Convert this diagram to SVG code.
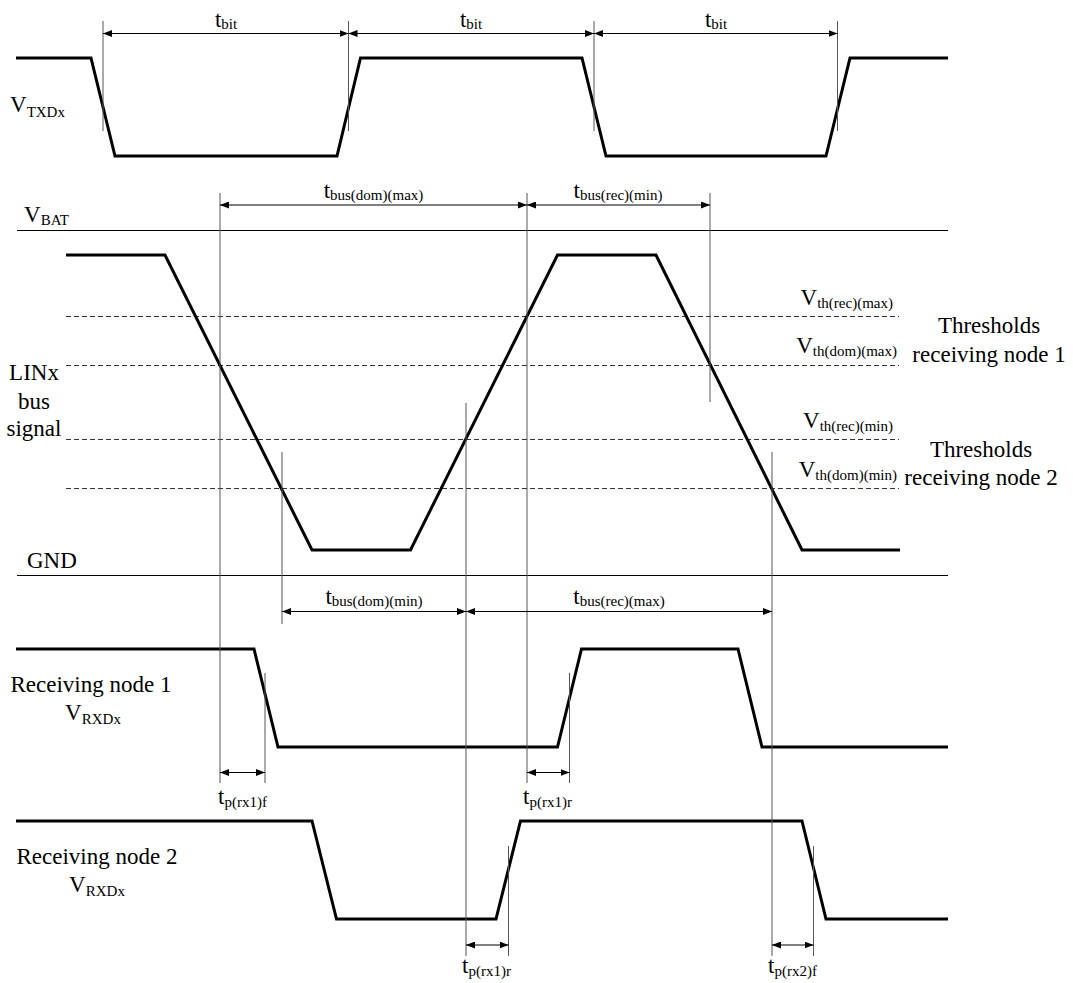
<svg xmlns="http://www.w3.org/2000/svg" width="1073" height="983" viewBox="0 0 1073 983" font-family="Liberation Serif, Times New Roman, serif">
<defs>
<marker id="ah" viewBox="0 0 9 7" refX="9" refY="3.5" markerWidth="9" markerHeight="7" markerUnits="userSpaceOnUse" orient="auto-start-reverse"><path d="M0,0 L9,3.5 L0,7 z" fill="#000"/></marker>
<style>
.wave{fill:none;stroke:#000;stroke-width:3;stroke-linejoin:miter}
.rail{stroke:#000;stroke-width:1}
.dash{stroke:#333;stroke-width:1;stroke-dasharray:5,3}
.mk{stroke:#555;stroke-width:1}
.dim{stroke:#000;stroke-width:1;marker-start:url(#ah);marker-end:url(#ah)}
text{font-family:"Liberation Serif","Times New Roman",serif;font-size:23px;fill:#000}
.s{font-size:15px}
</style>
</defs>
<rect width="1073" height="983" fill="#fff"/>

<g id="rails">
<line class="rail" x1="17" y1="230.5" x2="948" y2="230.5"/>
<line class="rail" x1="17" y1="575.5" x2="948" y2="575.5"/>
</g>

<g id="thresholds">
<line class="dash" x1="66" y1="316.5" x2="899" y2="316.5"/>
<line class="dash" x1="66" y1="365.5" x2="899" y2="365.5"/>
<line class="dash" x1="66" y1="439.5" x2="899" y2="439.5"/>
<line class="dash" x1="66" y1="488.5" x2="899" y2="488.5"/>
</g>

<g id="txd-wave"><polyline class="wave" points="16,58 91,58 115,156 337,156 360.5,58 582,58 606,156 826,156 850,58 948,58"/></g>
<g id="bus-wave"><polyline class="wave" points="66,255 165,255 312,550 410.5,550 557.5,255 656,255 802,550 900,550"/></g>
<g id="rx1-wave"><polyline class="wave" points="16,649 254,649 278,747 557.5,747 581.5,649 738,649 762,747 948,747"/></g>
<g id="rx2-wave"><polyline class="wave" points="16,821 312,821 336.5,919 496,919 520.5,821 802,821 826,919 948,919"/></g>

<g id="connectors">
<line class="mk" x1="103" y1="21" x2="103" y2="131"/>
<line class="mk" x1="348.5" y1="21" x2="348.5" y2="131"/>
<line class="mk" x1="594" y1="21" x2="594" y2="131"/>
<line class="mk" x1="837.5" y1="21" x2="837.5" y2="131"/>
<line class="mk" x1="220" y1="193" x2="220" y2="783"/>
<line class="mk" x1="282" y1="452" x2="282" y2="624"/>
<line class="mk" x1="466" y1="403" x2="466" y2="956"/>
<line class="mk" x1="527" y1="193" x2="527" y2="783"/>
<line class="mk" x1="710" y1="193" x2="710" y2="402"/>
<line class="mk" x1="772" y1="452" x2="772" y2="956"/>
<line class="mk" x1="265" y1="673" x2="265" y2="783"/>
<line class="mk" x1="569.5" y1="673" x2="569.5" y2="783"/>
<line class="mk" x1="508.5" y1="846" x2="508.5" y2="956"/>
<line class="mk" x1="813.5" y1="846" x2="813.5" y2="956"/>

<line class="dim" x1="103" y1="33.5" x2="348.5" y2="33.5"/>
<line class="dim" x1="348.5" y1="33.5" x2="594" y2="33.5"/>
<line class="dim" x1="594" y1="33.5" x2="837.5" y2="33.5"/>
<line class="dim" x1="220" y1="205" x2="527" y2="205"/>
<line class="dim" x1="527" y1="205" x2="710" y2="205"/>
<line class="dim" x1="282" y1="611.5" x2="466" y2="611.5"/>
<line class="dim" x1="466" y1="611.5" x2="772" y2="611.5"/>
<line class="dim" x1="220" y1="772.5" x2="265" y2="772.5"/>
<line class="dim" x1="527" y1="772.5" x2="569.5" y2="772.5"/>
<line class="dim" x1="466" y1="945" x2="508.5" y2="945"/>
<line class="dim" x1="772" y1="945" x2="813.5" y2="945"/>
</g>

<g id="dim-labels">
<text x="226" y="27" text-anchor="middle">t<tspan class="s" dy="2">bit</tspan></text>
<text x="471" y="27" text-anchor="middle">t<tspan class="s" dy="2">bit</tspan></text>
<text x="716" y="27" text-anchor="middle">t<tspan class="s" dy="2">bit</tspan></text>
<text x="373.5" y="198" text-anchor="middle">t<tspan class="s" dy="2">bus(dom)(max)</tspan></text>
<text x="618" y="198" text-anchor="middle">t<tspan class="s" dy="2">bus(rec)(min)</tspan></text>
<text x="374" y="604" text-anchor="middle">t<tspan class="s" dy="2">bus(dom)(min)</tspan></text>
<text x="619" y="604" text-anchor="middle">t<tspan class="s" dy="2">bus(rec)(max)</tspan></text>
<text x="218" y="804">t<tspan class="s" dy="3">p(rx1)f</tspan></text>
<text x="523" y="804">t<tspan class="s" dy="3">p(rx1)r</tspan></text>
<text x="462" y="973">t<tspan class="s" dy="3">p(rx1)r</tspan></text>
<text x="768" y="973">t<tspan class="s" dy="3">p(rx2)f</tspan></text>
</g>

<g id="signal-labels">
<text x="10" y="112">V<tspan class="s" dy="5">TXDx</tspan></text>
<text x="24" y="222">V<tspan class="s" dy="3">BAT</tspan></text>
<text x="34" y="380" text-anchor="middle">LINx</text>
<text x="34" y="409" text-anchor="middle">bus</text>
<text x="34" y="436" text-anchor="middle">signal</text>
<text x="27" y="568">GND</text>
<text x="91" y="692" text-anchor="middle">Receiving node 1</text>
<text x="93" y="720" text-anchor="middle">V<tspan class="s" dy="4">RXDx</tspan></text>
<text x="97" y="864" text-anchor="middle">Receiving node 2</text>
<text x="97" y="892" text-anchor="middle">V<tspan class="s" dy="4">RXDx</tspan></text>
</g>

<g id="threshold-labels">
<text x="893" y="305" text-anchor="end">V<tspan class="s" dy="3">th(rec)(max)</tspan></text>
<text x="897" y="353" text-anchor="end">V<tspan class="s" dy="3">th(dom)(max)</tspan></text>
<text x="893" y="428" text-anchor="end">V<tspan class="s" dy="3">th(rec)(min)</tspan></text>
<text x="897" y="477" text-anchor="end">V<tspan class="s" dy="3">th(dom)(min)</tspan></text>
<text x="989" y="333" text-anchor="middle">Thresholds</text>
<text x="989" y="362" text-anchor="middle">receiving node 1</text>
<text x="981" y="457" text-anchor="middle">Thresholds</text>
<text x="981" y="485" text-anchor="middle">receiving node 2</text>
</g>
</svg>
